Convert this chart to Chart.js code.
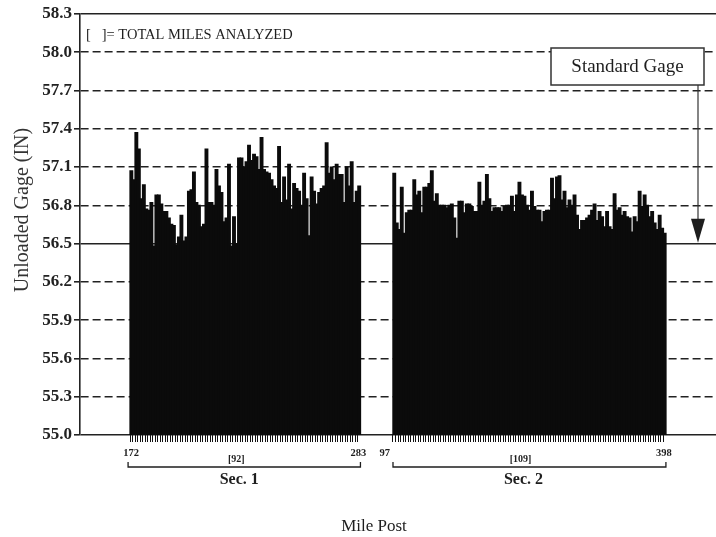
<!DOCTYPE html>
<html><head><meta charset="utf-8">
<script src="https://cdn.jsdelivr.net/npm/chart.js@4.4.1/dist/chart.umd.min.js"></script>
<style>html,body{margin:0;padding:0;background:#fff}canvas{display:block}</style>
</head><body>
<canvas id="c" width="716" height="537"></canvas>
<script>
// ---- data ----
const yTicks = [55.0, 55.3, 55.6, 55.9, 56.2, 56.5, 56.8, 57.1, 57.4, 57.7, 58.0, 58.3];
const standardGage = 56.5;
const sectionNames = ['Sec. 1', 'Sec. 2'];
const sectionStartPosts = ['172', '97'];
const sectionEndPosts = ['283', '398'];
const sectionMilesAnalyzed = ['[92]', '[109]'];
const sec1Gage = [57.07,57.00,57.37,57.24,56.85,56.96,56.77,56.76,56.82,56.48,
 56.88,56.88,56.81,56.75,56.75,56.70,56.65,56.64,56.49,56.55,
 56.72,56.52,56.55,56.91,56.92,57.06,56.82,56.80,56.63,56.65,
 57.24,56.82,56.82,56.80,57.08,56.95,56.90,56.67,56.70,57.12,
 56.48,56.71,56.50,57.17,57.17,57.10,57.14,57.27,57.15,57.20,
 57.18,57.08,57.33,57.08,57.06,57.05,57.00,56.95,56.93,57.26,
 56.82,57.02,56.84,57.12,56.77,56.97,56.93,56.91,56.80,57.05,
 56.85,56.56,57.02,56.91,56.81,56.90,56.93,56.95,57.29,57.05,
 57.10,57.00,57.12,57.04,57.04,56.82,57.10,56.95,57.14,56.82,
 56.91,56.95];
const sec2Gage = [57.05,56.66,56.61,56.94,56.58,56.74,56.76,56.76,57.00,56.88,
 56.91,56.74,56.94,56.94,56.97,57.07,56.83,56.89,56.80,56.80,
 56.80,56.78,56.80,56.81,56.70,56.54,56.83,56.83,56.74,56.81,
 56.81,56.79,56.75,56.75,56.98,56.80,56.83,57.04,56.85,56.75,
 56.78,56.78,56.78,56.75,56.79,56.80,56.80,56.87,56.75,56.88,
 56.98,56.88,56.87,56.80,56.76,56.91,56.79,56.76,56.76,56.67,
 56.75,56.76,56.76,57.01,56.85,57.02,57.03,56.84,56.91,56.78,
 56.84,56.80,56.88,56.72,56.61,56.68,56.68,56.70,56.72,56.76,
 56.81,56.68,56.75,56.71,56.63,56.75,56.63,56.61,56.89,56.76,
 56.78,56.72,56.75,56.71,56.70,56.59,56.71,56.67,56.91,56.79,
 56.88,56.80,56.71,56.75,56.66,56.61,56.72,56.62,56.58];

// ---- layout of the category axis (empty slots) ----
const LEAD = 20, GAP = 13, TRAIL = 20;
const pad = n => Array(n).fill(null);
const values = pad(LEAD).concat(sec1Gage, pad(GAP), sec2Gage, pad(TRAIL));
const labels = values.map((_, i) => String(i));
const s1Start = LEAD, s1End = LEAD + sec1Gage.length - 1;
const s2Start = s1End + 1 + GAP, s2End = s2Start + sec2Gage.length - 1;
const isData = i => (i >= s1Start && i <= s1End) || (i >= s2Start && i <= s2End);

const SERIF = "'Liberation Serif', 'Times New Roman', serif";
const INK = '#1e1e1e';
const near = (a, b) => Math.abs(a - b) < 1e-6;

const decor = {
  id: 'decor',
  afterDraw(chart) {
    const {ctx, scales: {x, y}, chartArea} = chart;
    const bw = x.getPixelForValue(1) - x.getPixelForValue(0);
    const secs = [[s1Start, s1End], [s2Start, s2End]];
    const bottom = chartArea.bottom;
    ctx.save();
    ctx.fillStyle = INK; ctx.strokeStyle = INK;
    secs.forEach(([a, b], k) => {
      const L = x.getPixelForValue(a) - bw / 2;
      const R = x.getPixelForValue(b) + bw / 2;
      const mid = (L + R) / 2;
      ctx.font = `bold 10.5px ${SERIF}`;
      ctx.textBaseline = 'middle';
      if (k === 0) { ctx.textAlign = 'center'; ctx.fillText(sectionStartPosts[k], L + 1, bottom + 18); }
      else { ctx.textAlign = 'right'; ctx.fillText(sectionStartPosts[k], L - 3, bottom + 18); }
      ctx.textAlign = 'center';
      ctx.fillText(sectionEndPosts[k], R - 2, bottom + 18);
      ctx.font = `bold 10px ${SERIF}`;
      ctx.fillText(sectionMilesAnalyzed[k], mid - 9, bottom + 24);
      // bracket
      ctx.lineWidth = 1.3;
      ctx.beginPath();
      const bl = k === 0 ? L - 2 : L;
      ctx.moveTo(bl, bottom + 27); ctx.lineTo(bl, bottom + 32);
      ctx.lineTo(R, bottom + 32); ctx.lineTo(R, bottom + 27);
      ctx.stroke();
      ctx.font = `bold 16px ${SERIF}`;
      ctx.fillText(sectionNames[k], mid - 6, bottom + 45);
    });
    // x title
    ctx.font = `17px ${SERIF}`;
    ctx.textAlign = 'center'; ctx.textBaseline = 'middle';
    ctx.fillText('Mile Post', 374, bottom + 92);
    // y title
    ctx.save();
    ctx.translate(23, 210); ctx.rotate(-Math.PI / 2);
    ctx.font = `20px ${SERIF}`;
    ctx.fillStyle = '#333';
    ctx.fillText('Unloaded Gage (IN)', 0, 0);
    ctx.restore();
    // note
    ctx.font = `14.5px ${SERIF}`;
    ctx.textAlign = 'left';
    ctx.fillText('[   ]= TOTAL MILES ANALYZED', 86, 35);
    // standard gage box + arrow
    const bx = 551, by = 48, bwid = 153, bh = 37;
    ctx.fillStyle = '#fff';
    ctx.fillRect(bx, by, bwid, bh);
    ctx.lineWidth = 1.5; ctx.strokeStyle = '#333';
    ctx.strokeRect(bx, by, bwid, bh);
    ctx.fillStyle = INK;
    ctx.font = `19px ${SERIF}`;
    ctx.textAlign = 'center';
    ctx.fillText('Standard Gage', bx + bwid / 2, by + bh / 2 + 1);
    const ax = 698, tip = y.getPixelForValue(standardGage);
    ctx.lineWidth = 1.2;
    ctx.beginPath(); ctx.moveTo(ax, by + bh); ctx.lineTo(ax, tip - 24); ctx.stroke();
    ctx.beginPath();
    ctx.moveTo(ax - 7, tip - 25); ctx.lineTo(ax + 7, tip - 25); ctx.lineTo(ax, tip - 1); ctx.closePath();
    ctx.fill();
    ctx.restore();
  }
};

new Chart(document.getElementById('c'), {
  type: 'bar',
  data: {
    labels,
    datasets: [{
      data: values,
      backgroundColor: '#0b0b0b',
      borderWidth: 0,
      inflateAmount: 0.7,
      barPercentage: 1.0,
      categoryPercentage: 1.0
    }]
  },
  options: {
    responsive: false,
    animation: false,
    devicePixelRatio: 1,
    layout: {padding: {top: 14, left: 0, right: 0, bottom: 95}},
    plugins: {legend: {display: false}, tooltip: {enabled: false}},
    scales: {
      x: {
        type: 'category',
        ticks: {display: false, autoSkip: false},
        grid: {
          drawOnChartArea: false, drawTicks: true, tickLength: 7, lineWidth: 1,
          color: c => isData(c.index) ? '#111' : 'rgba(0,0,0,0)'
        },
        border: {display: false}
      },
      y: {
        min: yTicks[0], max: yTicks[yTicks.length - 1],
        afterBuildTicks: s => { s.ticks = yTicks.map(v => ({value: v})); },
        afterFit: s => { s.width = 80; },
        ticks: {
          callback: v => Number(v).toFixed(1),
          font: {family: SERIF, size: 17, weight: 'bold'},
          color: '#222', padding: 2
        },
        grid: {color: '#222', lineWidth: 1.6, tickLength: 6, drawTicks: true},
        border: {
          display: true, color: '#222', width: 1.6,
          dash: c => {
            if (!c.tick) return [];
            const v = c.tick.value;
            return (near(v, 56.5) || near(v, 55.0) || near(v, 58.3)) ? [] : [8, 4];
          }
        }
      }
    }
  },
  plugins: [decor]
});
</script>
</body></html>
